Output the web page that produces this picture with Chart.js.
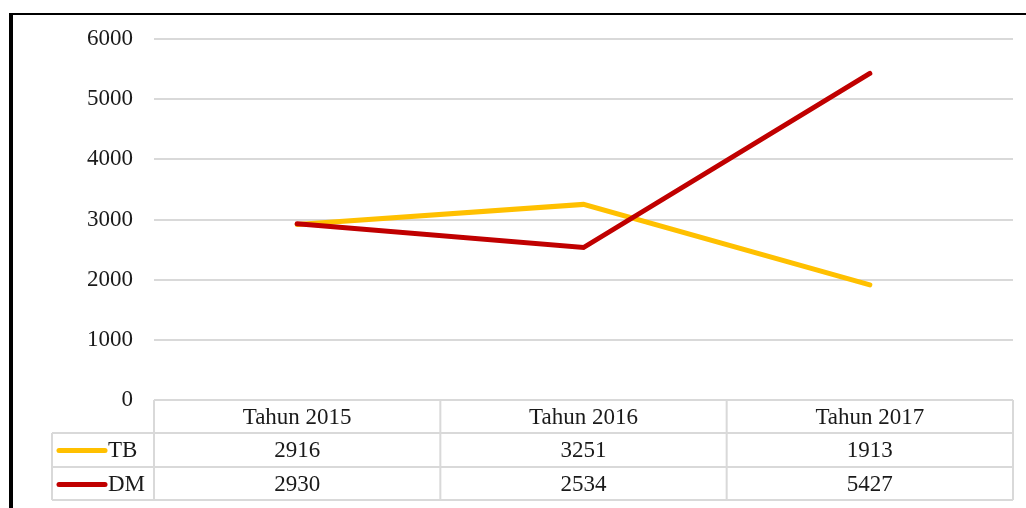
<!DOCTYPE html>
<html>
<head>
<meta charset="utf-8">
<script src="https://cdn.jsdelivr.net/npm/chart.js@4"></script>
<style>
  html, body { margin: 0; padding: 0; background: #ffffff; }
  #wrap { width: 1026px; height: 508px; }
</style>
</head>
<body>
<div id="wrap"><canvas id="grafik" width="1026" height="508"></canvas></div>
<script>
const kategori = ['Tahun 2015', 'Tahun 2016', 'Tahun 2017'];
const nilaiTB = [2916, 3251, 1913];
const nilaiDM = [2930, 2534, 5427];
const tickY = [0, 1000, 2000, 3000, 4000, 5000, 6000];

const warnaTB = '#FFC000';
const warnaDM = '#C00000';
const garis = '#d9d9d9';
const huruf = '"Liberation Serif", "Times New Roman", serif';

// bingkai hitam kiri + atas
const bingkai = {
  id: 'bingkai',
  beforeDraw(chart) {
    const ctx = chart.ctx;
    ctx.save();
    ctx.fillStyle = '#ffffff';
    ctx.fillRect(0, 0, chart.width, chart.height);
    ctx.fillStyle = '#000000';
    ctx.fillRect(9, 13, 1017, 2);
    ctx.fillRect(9, 13, 4, 495);
    ctx.restore();
  }
};

// tabel data di bawah sumbu x
const tabelData = {
  id: 'tabelData',
  afterDraw(chart) {
    const ctx = chart.ctx;
    const xs = chart.scales.x;
    const area = chart.chartArea;
    const kiri = area.left, kanan = area.right;
    const lebar = (kanan - kiri) / kategori.length;
    const top = area.bottom;
    const baris = [top, top + 33, top + 67, top + 100];
    const kolomLegend = 52;

    ctx.save();
    ctx.strokeStyle = garis;
    ctx.lineWidth = 2;
    ctx.beginPath();
    // garis horizontal
    ctx.moveTo(kiri, baris[0]); ctx.lineTo(kanan, baris[0]);
    for (let i = 1; i < baris.length; i++) {
      ctx.moveTo(kolomLegend, baris[i]); ctx.lineTo(kanan, baris[i]);
    }
    // garis vertikal
    for (let i = 0; i <= kategori.length; i++) {
      const x = kiri + i * lebar;
      ctx.moveTo(x, baris[0]); ctx.lineTo(x, baris[3]);
    }
    ctx.moveTo(kolomLegend, baris[1]); ctx.lineTo(kolomLegend, baris[3]);
    ctx.stroke();

    ctx.fillStyle = '#1a1a1a';
    ctx.font = '23px ' + huruf;
    ctx.textAlign = 'center';
    ctx.textBaseline = 'middle';
    kategori.forEach((k, i) => {
      const x = xs.getPixelForValue(i);
      ctx.fillText(k, x, (baris[0] + baris[1]) / 2 + 1);
      ctx.fillText(String(nilaiTB[i]), x, (baris[1] + baris[2]) / 2 + 1);
      ctx.fillText(String(nilaiDM[i]), x, (baris[2] + baris[3]) / 2 + 1);
    });

    // kunci legenda
    const seri = [['TB', warnaTB, baris[1]], ['DM', warnaDM, baris[2]]];
    seri.forEach(([nama, warna, y0]) => {
      const yc = (y0 + y0 + 33) / 2 + 1;
      ctx.strokeStyle = warna;
      ctx.lineWidth = 5;
      ctx.lineCap = 'round';
      ctx.beginPath();
      ctx.moveTo(59, yc); ctx.lineTo(105, yc);
      ctx.stroke();
      ctx.textAlign = 'left';
      ctx.fillText(nama, 108, yc);
    });
    ctx.restore();
  }
};

const ctx = document.getElementById('grafik').getContext('2d');
new Chart(ctx, {
  type: 'line',
  data: {
    labels: kategori,
    datasets: [
      {
        label: 'TB',
        data: nilaiTB,
        order: 1,
        borderColor: warnaTB,
        backgroundColor: warnaTB,
        borderWidth: 5,
        pointRadius: 0,
        tension: 0,
        borderCapStyle: 'round',
        borderJoinStyle: 'miter'
      },
      {
        label: 'DM',
        data: nilaiDM,
        order: 0,
        borderColor: warnaDM,
        backgroundColor: warnaDM,
        borderWidth: 5,
        pointRadius: 0,
        tension: 0,
        borderCapStyle: 'round',
        borderJoinStyle: 'miter'
      }
    ]
  },
  options: {
    responsive: false,
    animation: false,
    devicePixelRatio: 1,
    layout: { padding: { left: 14, right: 13, top: 39, bottom: 108 } },
    plugins: {
      legend: { display: false },
      tooltip: { enabled: false }
    },
    scales: {
      x: {
        display: false,
        offset: true
      },
      y: {
        min: 0,
        max: 6000,
        afterFit(scale) { scale.width = 140; },
        afterBuildTicks(scale) { scale.ticks = tickY.map(v => ({ value: v })); },
        border: { display: false },
        grid: { color: garis, lineWidth: 2, drawTicks: false },
        ticks: {
          color: '#1a1a1a',
          padding: 21,
          font: { family: huruf, size: 23 },
          callback: (v) => String(v)
        }
      }
    }
  },
  plugins: [bingkai, tabelData]
});
</script>
</body>
</html>
